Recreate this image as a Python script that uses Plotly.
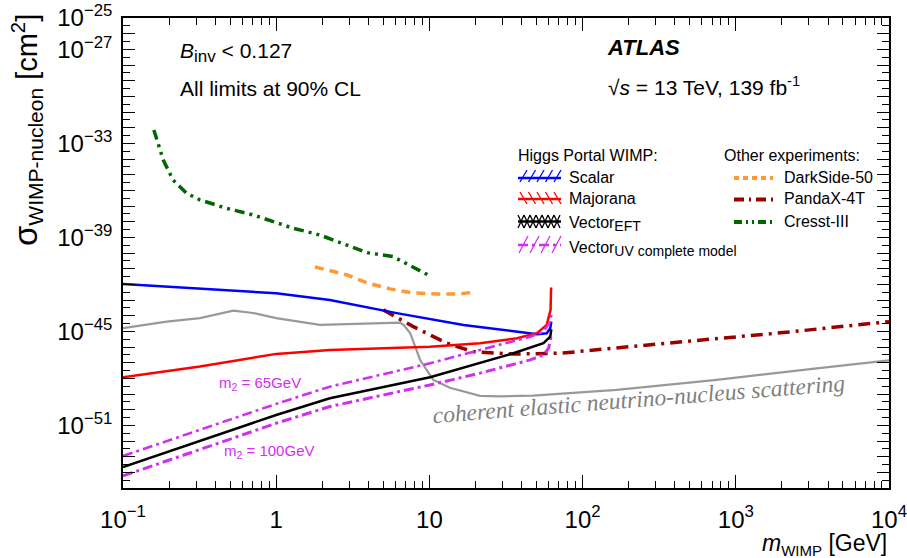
import plotly.graph_objects as go

# ---------------- data ----------------
scalar_m = [0.1, 1.0, 2.24, 6.12, 16.7, 35.3, 50.5, 58.3, 61.5, 62.5]
scalar_s = [1.05e-42, 2.69e-43, 1.0e-43, 1.45e-44, 2.57e-45, 9.55e-46, 6.46e-46, 7.59e-46, 1.58e-45, 4.17e-45]

majorana_m = [0.1, 0.318, 1.0, 2.24, 10.1, 21.4, 37.3, 50.4, 58.3, 61.8, 62.2, 62.5]
majorana_s = [1.17e-48, 5.62e-48, 3.63e-47, 6.46e-47, 1.05e-46, 1.74e-46, 3.63e-46, 7.59e-46, 2.57e-45, 2.34e-44, 4.37e-43, 6.31e-43]

vector_eft_m = [0.1, 1.0, 2.24, 10.1, 35.3, 55.5, 61.5, 62.5]
vector_eft_s = [2.14e-54, 4.57e-51, 5.37e-50, 1.17e-48, 3.98e-47, 1.74e-46, 4.57e-46, 1.35e-45]

vector_uv65_m = [0.1, 1.0, 2.24, 10.1, 21.4, 45.6, 55.5, 61.5, 62.5]
vector_uv65_s = [1.12e-53, 2.34e-50, 2.95e-49, 9.12e-48, 6.46e-47, 4.57e-46, 9.55e-46, 4.17e-45, 1.12e-44]

vector_uv100_m = [0.1, 1.0, 2.24, 10.1, 21.4, 45.6, 55.5, 60.0, 62.2, 62.5]
vector_uv100_s = [5.89e-55, 1.35e-51, 1.58e-50, 3.80e-49, 2.14e-48, 1.51e-47, 3.16e-47, 8.32e-47, 4.57e-46, 6.31e-46]

darkside_m = [1.79, 2.90, 3.92, 5.53, 7.82, 11.2, 15.8, 19.9]
darkside_s = [1.29e-41, 3.98e-42, 1.23e-42, 5.13e-43, 2.82e-43, 2.45e-43, 2.45e-43, 3.24e-43]

pandax_m = [5.0, 7.85, 13.0, 19.3, 35.3, 71.0, 454.0, 2040.0, 10000.0]
pandax_s = [2.34e-44, 2.0e-45, 1.74e-46, 5.01e-47, 3.55e-47, 3.98e-47, 2.19e-46, 8.32e-46, 4.17e-45]

cresst_m = [0.159, 0.166, 0.183, 0.212, 0.26, 0.318, 0.475, 0.706, 1.29, 1.93, 2.90, 3.92, 5.78, 9.8]
cresst_s = [7.08e-33, 1.62e-33, 8.71e-35, 4.57e-36, 6.46e-37, 2.45e-37, 7.08e-38, 2.69e-38, 3.80e-39,
            1.41e-39, 3.24e-40, 1.05e-40, 5.89e-41, 3.98e-42]

nufloor_m = [0.1, 0.193, 0.318, 0.525, 0.707, 1.0, 1.93, 3.9, 6.44, 6.8, 7.5, 8.7, 10.6, 13.6, 21.4,
             28.8, 47.6, 167.0, 750.0, 3375.0, 10000.0]
nufloor_s = [1.58e-45, 4.17e-45, 6.92e-45, 2.09e-44, 1.48e-44, 6.92e-45, 2.57e-45, 2.95e-45, 3.63e-45,
             2.51e-45, 7.59e-46, 1.48e-47, 7.94e-49, 2.51e-49, 7.59e-50, 7.08e-50, 7.94e-50, 1.82e-49,
             7.94e-49, 4.37e-48, 1.41e-47]

x_tick_vals = [0.1, 1, 10, 100, 1000, 10000]
x_tick_text = ["10<sup>\u22121</sup>", "1", "10", "10<sup>2</sup>", "10<sup>3</sup>", "10<sup>4</sup>"]
y_label_exps = [-25, -27, -33, -39, -45, -51]

# ---------------- styling ----------------
W, H = 907, 558
L, R, T, B = 123, 18, 18, 70
FONT = "Liberation Sans, Arial, Helvetica, sans-serif"
C_BLUE, C_RED, C_BLACK = "#0000ff", "#ff0000", "#000000"
C_MAG = "#d22ef2"
C_ORANGE, C_DRED, C_GREEN, C_GRAY = "#ff9933", "#990000", "#006600", "#999999"


def PX(x):
    return (x - L) / (W - L - R)


def PY(y):
    return (H - B - y) / (H - T - B)


def sub(s, px):
    return "<sub><span style='font-size:%dpx'>%s</span></sub>" % (px, s)


fig = go.Figure()


def line(xs, ys, color, width, dash="solid"):
    fig.add_trace(go.Scatter(x=xs, y=ys, mode="lines", showlegend=False, hoverinfo="skip",
                             line=dict(color=color, width=width, dash=dash)))


line(nufloor_m, nufloor_s, C_GRAY, 2.2)
line(cresst_m, cresst_s, C_GREEN, 3.5, "10px,5px,3px,5px,3px,5px")
line(darkside_m, darkside_s, C_ORANGE, 3.5, "9px,6px")
line(pandax_m, pandax_s, C_DRED, 3.5, "12px,6px,3px,6px")
line(scalar_m, scalar_s, C_BLUE, 2.5)
line(majorana_m, majorana_s, C_RED, 2.5)
line(vector_uv65_m, vector_uv65_s, C_MAG, 2.6, "10px,4px,3px,4px")
line(vector_uv100_m, vector_uv100_s, C_MAG, 3.0, "10px,4px,3px,4px")
line(vector_eft_m, vector_eft_s, C_BLACK, 2.5)

# ticks
y_major = [10.0 ** e for e in range(-55, -24)]
y_text = [("10<sup>\u2212%d</sup>" % (-e)) if e in y_label_exps else "" for e in range(-55, -24)]
y_minor = [10.0 ** (e + 0.5) for e in range(-55, -25)]
x_minor = [k * 10.0 ** e for e in range(-1, 4) for k in range(2, 10)]

fig.update_xaxes(type="log", range=[-1, 4], tickmode="array", tickvals=x_tick_vals, ticktext=x_tick_text,
                 ticks="inside", ticklen=13, tickwidth=1.3, tickcolor="black", showline=True,
                 linecolor="black", linewidth=1.5, mirror="ticks", showgrid=False, zeroline=False,
                 automargin=False, ticklabeloverflow="allow",
                 tickfont=dict(family=FONT, size=24, color="black"), ticklabelstandoff=9,
                 minor=dict(tickmode="array", tickvals=x_minor, ticks="inside", ticklen=7,
                            tickwidth=1.3, tickcolor="black", showgrid=False))
fig.update_yaxes(type="log", range=[-55, -25], tickmode="array", tickvals=y_major, ticktext=y_text,
                 ticks="inside", ticklen=12, tickwidth=1.3, tickcolor="black", showline=True,
                 linecolor="black", linewidth=1.5, mirror="ticks", showgrid=False, zeroline=False,
                 automargin=False, ticklabeloverflow="allow",
                 tickfont=dict(family=FONT, size=24, color="black"), ticklabelstandoff=4,
                 minor=dict(tickmode="array", tickvals=y_minor, ticks="inside", ticklen=7,
                            tickwidth=1.3, tickcolor="black", showgrid=False))

ann = []


def text(x, y, s, size, color="black", xanchor="left", family=FONT, angle=0):
    ann.append(dict(x=PX(x), y=PY(y), xref="paper", yref="paper", text=s, showarrow=False,
                    xanchor=xanchor, yanchor="middle", textangle=angle,
                    font=dict(family=family, size=size, color=color)))


text(178, 52, "<i>B</i>" + sub("inv", 17) + " &lt; 0.127", 21)
text(178, 88, "All limits at 90% CL", 21)
text(605, 48, "<b><i>ATLAS</i></b>", 22)
text(606, 86, "\u221a<i>s</i> = 13 TeV, 139 fb<sup>-1</sup>", 21)
text(217, 383, "m<sub>2</sub> = 65GeV", 15, C_MAG)
text(222, 451, "m<sub>2</sub> = 100GeV", 15, C_MAG)
text(639, 399, "<i>coherent elastic neutrino-nucleus scattering</i>", 23.5, "#808080", "center",
     "Liberation Serif, Times New Roman, serif", -4.5)

# axis titles
text(27, 130, "<span style='font-size:33px'>\u03c3</span>" + sub("WIMP-nucleon", 21)
     + " [cm<sup>2</sup>]", 29, "black", "center", FONT, -90)
ann.append(dict(x=1.0, y=PY(544), xref="paper", yref="paper", showarrow=False, xanchor="right",
                yanchor="middle", text="<i>m</i>" + sub("WIMP", 15) + " [GeV]",
                font=dict(family=FONT, size=23, color="black")))

# legend texts
text(516, 155, "Higgs Portal WIMP:", 16)
text(567, 177, "Scalar", 16)
text(567, 199, "Majorana", 16)
text(567, 224, "Vector" + sub("EFT", 14), 16)
text(567, 249, "Vector" + sub("UV complete model", 14), 16)
text(722, 155, "Other experiments:", 16)
text(782, 177, "DarkSide-50", 16)
text(782, 199, "PandaX-4T", 16)
text(782, 222, "Cresst-III", 16)

shapes = []


def seg(x0, y0, x1, y1, color, width, dash="solid"):
    shapes.append(dict(type="line", xref="paper", yref="paper", x0=PX(x0), y0=PY(y0), x1=PX(x1),
                       y1=PY(y1), line=dict(color=color, width=width, dash=dash)))


lx0, lx1 = 518, 561
# Scalar
for k in range(5):
    xs = lx0 + 2 + k * 8.5
    seg(xs, 182, xs + 7, 170, C_BLUE, 1.3)
seg(lx0, 178, lx1, 178, C_BLUE, 2.5)
# Majorana
for k in range(5):
    xs = lx0 + 2 + k * 8.5
    seg(xs, 192, xs + 7, 204, C_RED, 1.3)
seg(lx0, 199, lx1, 199, C_RED, 2.5)
# Vector EFT
for k in range(7):
    xs = lx0 + k * 6
    seg(xs, 215, xs + 6, 228, C_BLACK, 1.3)
    seg(xs, 228, xs + 6, 215, C_BLACK, 1.3)
seg(lx0, 221.5, lx1, 221.5, C_BLACK, 2.5)
# Vector UV
for k in range(4):
    xs = lx0 + 1 + k * 11
    seg(xs, 253, xs + 9, 236, C_MAG, 1.3)
seg(lx0, 245, lx1, 245, C_MAG, 2.5, "10px,4px,3px,4px")

ox0, ox1 = 734, 773
seg(ox0, 178, ox1, 178, C_ORANGE, 4, "5px,4px")
seg(ox0, 199.5, ox1, 199.5, C_DRED, 4, "10px,5px,2px,5px")
seg(ox0, 222, ox1, 222, C_GREEN, 4, "8px,4px,2px,4px,2px,4px")

fig.update_layout(width=W, height=H, autosize=False, margin=dict(l=L, r=R, t=T, b=B),
                  paper_bgcolor="white", plot_bgcolor="white", annotations=ann, shapes=shapes,
                  font=dict(family=FONT, color="black"))

fig.write_html("out.html")
